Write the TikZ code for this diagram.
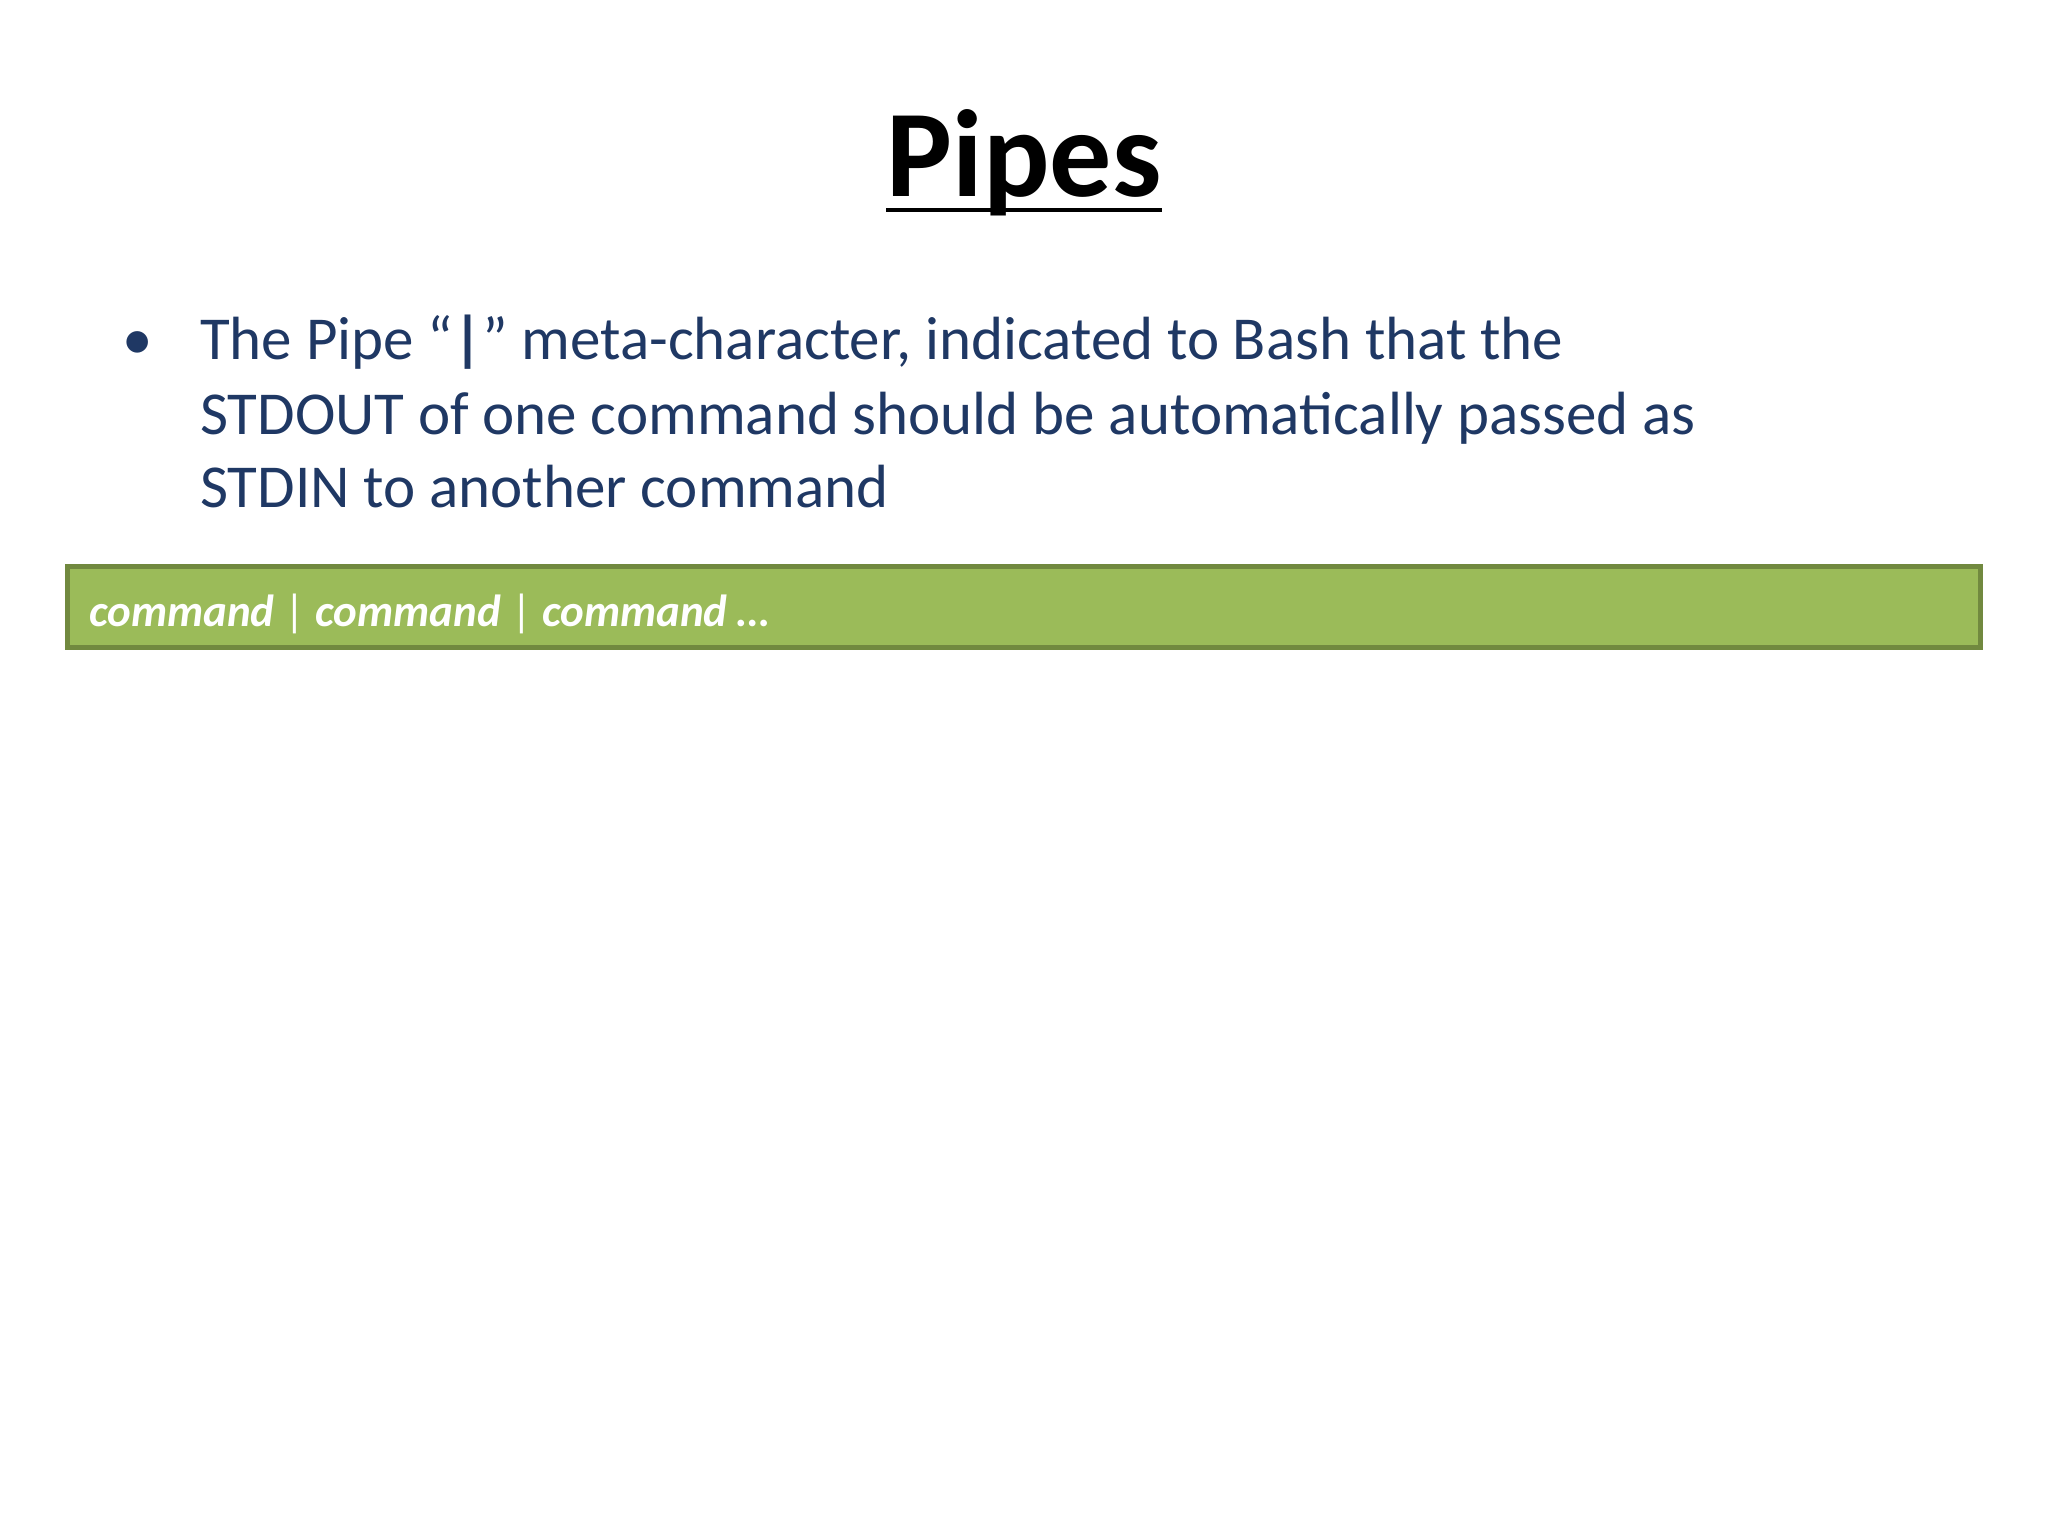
\documentclass[tikz,border=0pt]{standalone}
\usepackage{fontspec}
\setmainfont{Carlito}
\definecolor{txtblue}{HTML}{1F3864}
\definecolor{gfill}{HTML}{9BBB59}
\definecolor{gdraw}{HTML}{71893F}
\begin{document}
\begin{tikzpicture}[x=1pt,y=-1pt,
  body/.style={anchor=base west,inner sep=0,text=txtblue,font=\fontsize{61}{74}\selectfont}]
\useasboundingbox (0,0) rectangle (2048,1536);
\node[anchor=base,inner sep=0,font=\fontsize{124}{140}\bfseries\selectfont] (title) at (1024,196) {Pipes};
\draw[line width=4pt] (title.base west)++(0,14) coordinate (u1) -- ([yshift=-14pt]title.base east);
\node[body] (bul) at (122,359) {•};
\node[body] (l1) at (200,359) {The Pipe “\textbf{|}” meta-character, indicated to Bash that the};
\node[body] (l2) at (200,434) {STDOUT of one command should be automatically passed as};
\node[body] (l3) at (200,507) {STDIN to another command};
\draw[fill=gfill,draw=gdraw,line width=5pt] (67,566) rectangle (1980,647);
\node[anchor=base west,inner sep=0,text=white,font=\fontsize{45}{50}\bfseries\itshape\selectfont] (cmd) at (89,626) {command \textmd{\upshape|} command \textmd{\upshape|} command …};
\end{tikzpicture}
\end{document}
